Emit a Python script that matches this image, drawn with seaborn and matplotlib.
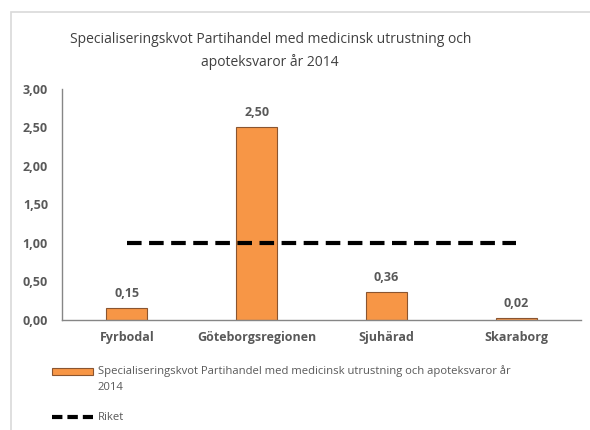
import numpy as np
import pandas as pd
import seaborn as sns
import matplotlib.pyplot as plt
from matplotlib.patches import Rectangle
from matplotlib.lines import Line2D

regions = ["Fyrbodal", "Göteborgsregionen", "Sjuhärad", "Skaraborg"]
kvot = [0.15, 2.50, 0.36, 0.02]
riket = [1.0, 1.0, 1.0, 1.0]
yticks = [0.0, 0.5, 1.0, 1.5, 2.0, 2.5, 3.0]

title = "Specialiseringskvot Partihandel med medicinsk utrustning och\napoteksvaror år 2014"
bar_label = "Specialiseringskvot Partihandel med medicinsk utrustning och apoteksvaror år\n2014"
line_label = "Riket"

df = pd.DataFrame({"Region": regions, "Kvot": kvot, "Riket": riket})

sns.set_theme(style="white")
plt.rcParams["font.family"] = ["Open Sans", "DejaVu Sans"]

grey = "#595959"
orange = "#F79646"
edge = "#8a5530"

fig = plt.figure(figsize=(5.9, 4.3), dpi=100)
ax = fig.add_axes([0.105, 0.256, 0.88, 0.537])

W, H = 590, 430

# light frame around the chart area
fig.patches.append(Rectangle((11 / W, -0.1), 1.2, 1 - 12 / H + 0.1,
                             transform=fig.transFigure, fill=False,
                             edgecolor="#d9d9d9", linewidth=1.2))

sns.barplot(data=df, x="Region", y="Kvot", color=orange, width=0.315,
            edgecolor=edge, linewidth=0.8, saturation=1, ax=ax)
sns.lineplot(x=np.arange(len(regions)), y=df["Riket"], color="black",
             linewidth=3, dashes=[(3.5, 1.8)], style=[0] * len(regions),
             legend=False, ax=ax)

for i, v in enumerate(kvot):
    ax.text(i, v + 0.11, f"{v:.2f}".replace(".", ","), ha="center", va="bottom",
            fontsize=9, fontweight="bold", color=grey)

ax.set_ylim(0, 3.0)
ax.set_xlim(-0.5, 3.5)
ax.set_yticks(yticks)
ax.set_yticklabels([f"{t:.2f}".replace(".", ",") for t in yticks])
ax.set_xlabel("")
ax.set_ylabel("")
ax.tick_params(axis="both", length=0, labelsize=9, labelcolor=grey)
ax.tick_params(axis="y", pad=10)
ax.tick_params(axis="x", pad=8)
for lab in ax.get_xticklabels() + ax.get_yticklabels():
    lab.set_fontweight("bold")

for s in ["top", "right"]:
    ax.spines[s].set_visible(False)
for s in ["left", "bottom"]:
    ax.spines[s].set_color("#868686")
    ax.spines[s].set_linewidth(1)

fig.text(0.458, 1 - 51 / H, title, ha="center", va="center", fontsize=10,
         color="#404040", linespacing=1.55)

# legend below the plot, laid out by hand
fig.patches.append(Rectangle((52 / W, 1 - 375 / H), 41 / W, 7 / H,
                             transform=fig.transFigure, facecolor=orange,
                             edgecolor=edge, linewidth=0.8))
fig.text(98 / W, 1 - 365 / H, bar_label, ha="left", va="top", fontsize=8.1,
         color=grey, linespacing=1.65)
fig.lines.append(Line2D([52 / W, 93 / W], [1 - 417 / H, 1 - 417 / H],
                        transform=fig.transFigure, color="black",
                        linewidth=3, dashes=(2.5, 1.2)))
fig.text(98 / W, 1 - 417 / H, line_label, ha="left", va="center",
         fontsize=8.1, color=grey)

fig.savefig("out.png", dpi=100)
